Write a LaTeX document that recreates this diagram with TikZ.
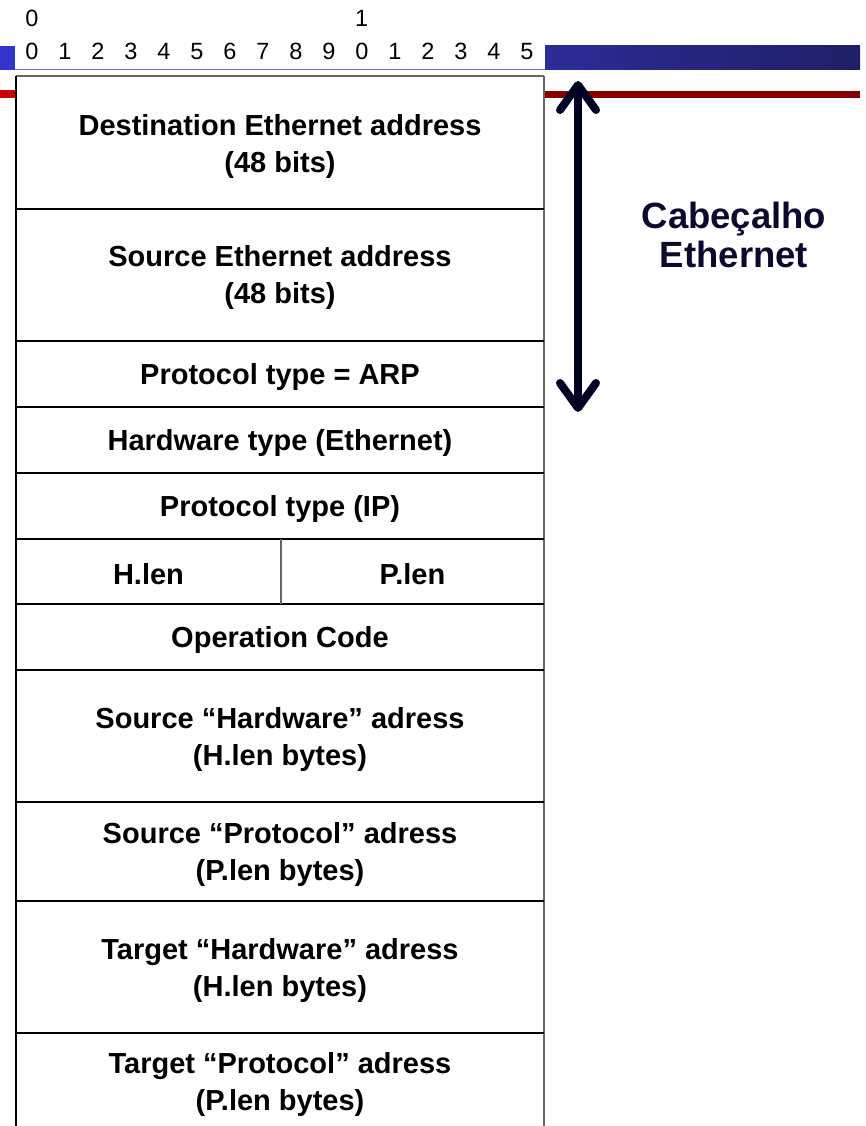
\documentclass[tikz,border=0pt]{standalone}
\usepackage{fontspec}
\setmainfont{Liberation Sans}
\usetikzlibrary{arrows.meta}
\definecolor{navy}{HTML}{000022}
\definecolor{barL}{HTML}{2C2C98}
\definecolor{barR}{HTML}{1F1F66}
\definecolor{sqblue}{HTML}{3434CC}
\definecolor{thinblue}{HTML}{7070C8}
\definecolor{darkred}{HTML}{880000}
\definecolor{brightred}{HTML}{CC0000}
\definecolor{titlecol}{HTML}{0A0A2E}
\tikzset{
  field/.style={font=\fontsize{29}{37}\selectfont\bfseries, align=center, text=black, yshift=-3pt},
  digit/.style={font=\fontsize{23.5}{26}\selectfont, text=black, inner sep=0pt, anchor=base},
  rowline/.style={line width=1.5pt, draw=black},
  edgeline/.style={line width=1.5pt, draw=black!60},
  bigarrow/.style={line width=8pt, draw=navy, {Straight Barb[length=25pt,width=36pt,round]}-{Straight Barb[length=25pt,width=36pt,round]}},
  title/.style={font=\fontsize{36.5}{39.5}\selectfont\bfseries, align=center, text=titlecol}
}
\begin{document}
\begin{tikzpicture}[x=1pt,y=-1pt]
\useasboundingbox (0,0) rectangle (865,1126);
% top decoration
\fill[sqblue] (0,46) rectangle (15,70);
\shade[left color=barL, right color=barR] (545,46) rectangle (860,70);
\draw[thinblue, line width=1.2pt] (15,69.5) -- (545,69.5);
\fill[brightred] (0,90) rectangle (15,98);
\fill[darkred] (545,91) rectangle (860,98);
% ruler digits
\node[digit] (t0) at (32,27) {0};
\node[digit] (t1) at (361.7,27) {1};
\foreach \i/\d in {0/0,1/1,2/2,3/3,4/4,5/5,6/6,7/7,8/8,9/9,10/0,11/1,12/2,13/3,14/4,15/5}{
  \node[digit] (d\i) at ({32+\i*33},60) {\d};
}
% table frame
\draw[edgeline] (16,76) -- (544,76);
\draw[rowline] (16,76) -- (16,1126);
\draw[edgeline] (544,76) -- (544,1126);
\foreach \y in {209,341,407,473,539,604,670,802,901,1033}{
  \draw[rowline] (16,\y) -- (544,\y);
}
\draw[edgeline] (281,539) -- (281,604);
% fields
\node[field] (dst) at (280,144) {Destination Ethernet address\\(48 bits)};
\node[field] (src) at (280,275) {Source Ethernet address\\(48 bits)};
\node[field] (ptype) at (280,374) {Protocol type = ARP};
\node[field] (htype) at (280,440) {Hardware type (Ethernet)};
\node[field] (pip) at (280,506) {Protocol type (IP)};
\node[field] (hlen) at (148.5,571.5) {H.len};
\node[field] (plen) at (412.5,571.5) {P.len};
\node[field] (op) at (280,637) {Operation Code};
\node[field] (sha) at (280,736) {Source “Hardware” adress\\(H.len bytes)};
\node[field] (spa) at (280,851) {Source “Protocol” adress\\(P.len bytes)};
\node[field] (tha) at (280,967) {Target “Hardware” adress\\(H.len bytes)};
\node[field] (tpa) at (280,1081) {Target “Protocol” adress\\(P.len bytes)};
% arrow and title
\coordinate (atop) at (578,81);
\coordinate (abot) at (578,412);
\draw[bigarrow] (atop) -- (abot);
\node[title] (cab) at (734,235) {Cabeçalho\\Ethernet};
\end{tikzpicture}
\end{document}
